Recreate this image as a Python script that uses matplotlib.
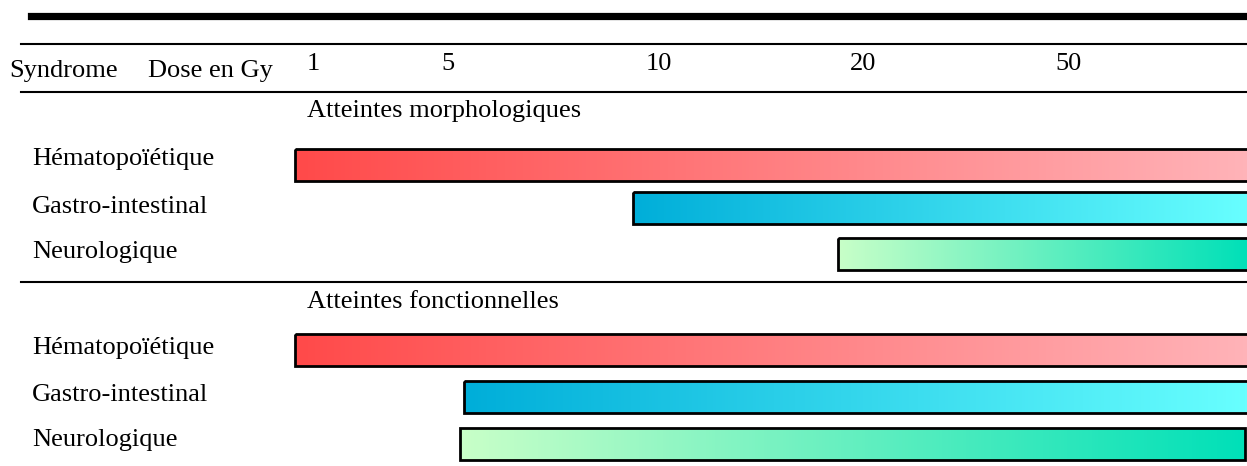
"""
Syndromes d'irradiation aiguë : doses seuils des atteintes
morphologiques et fonctionnelles (barres en dégradé sur une règle de doses).
"""

import numpy as np
import matplotlib.pyplot as plt
from matplotlib.patches import Rectangle
from matplotlib.colors import LinearSegmentedColormap
from matplotlib.transforms import offset_copy

plt.rcParams['font.family'] = ['Liberation Serif', 'DejaVu Serif']

# ---- data -------------------------------------------------------------
dose_ticks = [1, 5, 10, 20, 50]              # column headers (Gy)
dose_anchor = [1, 5, 10, 20, 50, 100]        # ruler anchors (Gy)
anchor_col = [0.0, 0.655, 1.65, 2.65, 3.65, 4.65]   # ruler is not linear

syndromes = ['Hématopoïétique', 'Gastro-intestinal', 'Neurologique']
groups = ['Atteintes morphologiques', 'Atteintes fonctionnelles']

morph_start = [1, 10, 20]
morph_end = [100, 100, 100]
fonc_start = [1, 5.85, 5.75]
fonc_end = [100, 100, 99.2]

bar_colors = [('#ff4a4a', '#ffb3b8'),
              ('#00aed9', '#68ffff'),
              ('#c8ffc8', '#00e0b8')]

# ---- layout (pixels of a 1247x466 canvas) -----------------------------
W, H = 1247, 466
X0_PX, COL_PX = 295, 205          # where dose 1 sits, width of one column
FS = 19


def dose_col(d):
    return np.interp(d, dose_anchor, anchor_col)


fig = plt.figure(figsize=(W / 100, H / 100), dpi=100)
ax = fig.add_axes([0, 0, 1, 1])
ax.axis('off')

left_trans = ax.get_yaxis_transform()          # x in axes fraction, y in px
num_trans = offset_copy(ax.transData, fig=fig, x=12, y=0, units='dots')

# rules
ax.axhline(15.5, xmin=31 / W, xmax=1, color='black', lw=5.2)
for y in (43.5, 92, 282):
    ax.axhline(y, xmin=21 / W, xmax=1, color='black', lw=1.5)

# header
ax.text(9 / W, 77, 'Syndrome', transform=left_trans, fontsize=FS, va='baseline')
ax.text(148 / W, 77, 'Dose en Gy', transform=left_trans, fontsize=FS, va='baseline')
for d in dose_ticks:
    ax.text(dose_col(d), 70, str(d), transform=num_trans, fontsize=FS,
            va='baseline')

# groups of bars
group_label_y = [117, 308]
label_base = [[165, 213, 258], [354, 401, 446]]
bar_top = [[149, 192, 238], [334, 381, 428]]
BAR_H = 32

for g, (starts, ends) in enumerate([(morph_start, morph_end),
                                    (fonc_start, fonc_end)]):
    ax.text(0, group_label_y[g], groups[g], transform=num_trans, fontsize=FS,
            va='baseline')
    for i, name in enumerate(syndromes):
        ax.text(32 / W, label_base[g][i], name, transform=left_trans,
                fontsize=FS, va='baseline')
        x0, x1 = dose_col(starts[i]), dose_col(ends[i])
        y0 = bar_top[g][i]
        cmap = LinearSegmentedColormap.from_list('grad', bar_colors[i])
        ax.imshow(np.linspace(0, 1, 256).reshape(1, -1), cmap=cmap,
                  extent=[x0, x1, y0 + BAR_H, y0], aspect='auto',
                  interpolation='bilinear', zorder=1)
        ax.add_patch(Rectangle((x0, y0), x1 - x0, BAR_H, facecolor='none',
                               edgecolor='black', lw=2.0, zorder=2))

ax.set_xlim(-X0_PX / COL_PX, (W - X0_PX) / COL_PX)
ax.set_ylim(H, 0)

fig.savefig('out.png', dpi=100)
